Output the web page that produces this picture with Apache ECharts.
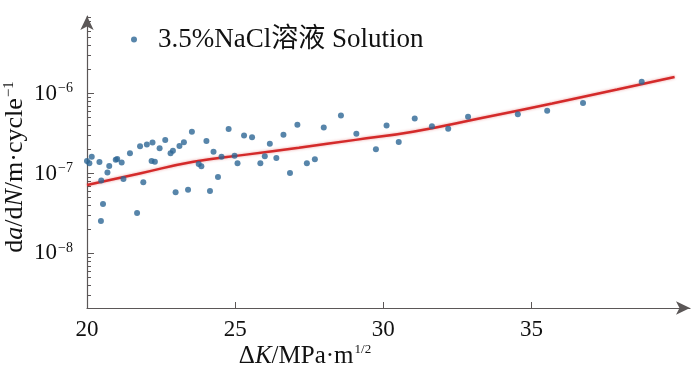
<!DOCTYPE html>
<html>
<head>
<meta charset="utf-8">
<script src="https://cdn.jsdelivr.net/npm/echarts@6/dist/echarts.min.js"></script>
<style>
  html, body { margin: 0; padding: 0; background: #fff; }
  #chart { width: 700px; height: 371px; }
</style>
</head>
<body>
<div id="chart"></div>
<script>
// measured points: ΔK (MPa·m^1/2) and da/dN (m/cycle)
var dK = [20.0, 20.08, 20.16, 20.42, 20.47, 20.54, 20.48, 20.69, 20.75, 20.97,
  21.02, 21.17, 21.23, 21.45, 21.69, 21.79, 21.9, 22.02, 22.21, 22.18,
  22.29, 22.45, 22.64, 22.82, 22.9, 22.99, 23.12, 23.27, 23.41, 23.54,
  23.77, 23.86, 24.03, 24.15, 24.27, 24.42, 24.54, 24.78, 24.98, 25.08,
  25.3, 25.57, 25.85, 26.0, 26.17, 26.39, 26.63, 26.85, 27.1, 27.42,
  27.69, 27.99, 28.57, 29.09, 29.75, 30.11, 30.52, 31.06, 31.64, 32.19,
  32.86, 34.54, 35.53, 36.74, 38.72];
var dadN = [1.43e-7, 1.34e-7, 1.62e-7, 1.39e-7, 2.55e-8, 4.16e-8, 8.18e-8, 1.03e-7, 1.24e-7, 1.48e-7,
  1.52e-7, 1.37e-7, 8.54e-8, 1.79e-7, 3.21e-8, 2.19e-7, 7.76e-8, 2.30e-7, 2.43e-7, 1.43e-7,
  1.40e-7, 2.07e-7, 2.62e-7, 1.79e-7, 1.92e-7, 5.82e-8, 2.21e-7, 2.45e-7, 6.27e-8, 3.32e-7,
  1.31e-7, 1.23e-7, 2.55e-7, 6.04e-8, 1.87e-7, 9.04e-8, 1.62e-7, 3.60e-7, 1.66e-7, 1.34e-7,
  2.99e-7, 2.83e-7, 1.34e-7, 1.64e-7, 2.36e-7, 1.56e-7, 3.05e-7, 1.01e-7, 4.07e-7, 1.34e-7,
  1.51e-7, 3.76e-7, 5.31e-7, 3.13e-7, 2.01e-7, 3.98e-7, 2.48e-7, 4.87e-7, 3.89e-7, 3.63e-7,
  5.13e-7, 5.49e-7, 6.10e-7, 7.61e-7, 1.40e-6];

// fitted curve
var fitK = [20, 21.78, 23.59, 25.37, 27.15, 29.06, 31.0, 33.36, 35.7, 37.89, 39.83];
var fitV = [7.18e-8, 1.0e-7, 1.40e-7, 1.72e-7, 2.10e-7, 2.63e-7, 3.33e-7, 4.98e-7, 7.50e-7, 1.12e-6, 1.61e-6];

var xTicks = [20, 25, 30, 35];
var yTicks = [1e-8, 1e-7, 1e-6];
var seriesName = '3.5%NaCl溶液 Solution';

var serif = 'Liberation Serif, DejaVu Serif, Noto Sans CJK SC, serif';
var axisColor = '#5b5757';

var minorTicks = [];
[-9, -8, -7, -6].forEach(function (e) {
  for (var m = 2; m <= 9; m++) minorTicks.push(m * Math.pow(10, e));
});

var yMin = 2.08e-9, yMax = 9.3e-6;

var chart = echarts.init(document.getElementById('chart'));
chart.setOption({
  animation: false,
  grid: { left: 87, right: 10, top: 16, bottom: 63 },
  legend: {
    left: 126, top: 21,
    itemWidth: 38, itemHeight: 6,
    data: [{ name: seriesName, icon: 'circle' }],
    textStyle: { fontFamily: serif, fontSize: 27, color: '#111' }
  },
  xAxis: {
    type: 'value', min: 20, max: 40.35,
    axisLine: { show: true, lineStyle: { color: axisColor, width: 1.2 },
      symbol: ['none', 'arrow'], symbolSize: [10, 14] },
    axisTick: { show: true, inside: true, length: 6, customValues: [25, 30, 35],
      lineStyle: { color: axisColor } },
    axisLabel: { customValues: xTicks, margin: 10,
      fontFamily: serif, fontSize: 23, color: '#111' },
    splitLine: { show: false }
  },
  yAxis: [{
    type: 'log', logBase: 10, min: yMin, max: yMax, position: 'left',
    axisLine: { show: true, lineStyle: { color: axisColor, width: 1.2 },
      symbol: ['none', 'arrow'], symbolSize: [10, 14] },
    axisTick: { show: true, inside: true, length: 7, customValues: yTicks,
      lineStyle: { color: axisColor } },
    axisLabel: {
      customValues: yTicks, margin: 14,
      fontFamily: serif, fontSize: 23, color: '#111',
      formatter: function (v) {
        var e = Math.round(Math.log(v) / Math.LN10);
        return '10{s|−' + (-e) + '}';
      },
      rich: { s: { fontFamily: serif, fontSize: 14, color: '#111', verticalAlign: 'top', padding: [0, 0, 10, 1] } }
    },
    splitLine: { show: false }
  }, {
    type: 'log', logBase: 10, min: yMin, max: yMax, position: 'left',
    axisLine: { show: false },
    axisTick: { show: true, inside: true, length: 4, customValues: minorTicks,
      lineStyle: { color: axisColor } },
    axisLabel: { show: false },
    splitLine: { show: false }
  }],
  graphic: [{
    type: 'text', x: 15, y: 167, rotation: Math.PI / 2,
    style: {
      text: 'd{i|a}/d{i|N}/m·cycle{s|−1}',
      fontFamily: serif, fontSize: 26, fill: '#111',
      align: 'center', verticalAlign: 'middle',
      rich: {
        i: { fontFamily: serif, fontSize: 26, fontStyle: 'italic' },
        s: { fontFamily: serif, fontSize: 15, verticalAlign: 'top', padding: [0, 0, 11, 1] }
      }
    }
  }, {
    type: 'text', x: 305, y: 356,
    style: {
      text: 'Δ{i|K}/MPa·m{s|1/2}',
      fontFamily: serif, fontSize: 25, fill: '#111',
      align: 'center', verticalAlign: 'middle',
      rich: {
        i: { fontFamily: serif, fontSize: 25, fontStyle: 'italic' },
        s: { fontFamily: serif, fontSize: 13, verticalAlign: 'top', padding: [0, 0, 11, 1] }
      }
    }
  }],
  series: [{
    name: seriesName,
    type: 'scatter',
    symbolSize: 6,
    itemStyle: { color: '#2d6795' },
    data: dK.map(function (k, i) { return [k, dadN[i]]; }),
    z: 3
  }, {
    name: 'fit',
    type: 'line',
    smooth: true,
    showSymbol: false,
    lineStyle: { color: '#d42a2a', width: 2.5, shadowColor: 'rgba(212,42,42,0.45)', shadowBlur: 3 },
    data: fitK.map(function (k, i) { return [k, fitV[i]]; }),
    z: 2
  }]
});
</script>
</body>
</html>
